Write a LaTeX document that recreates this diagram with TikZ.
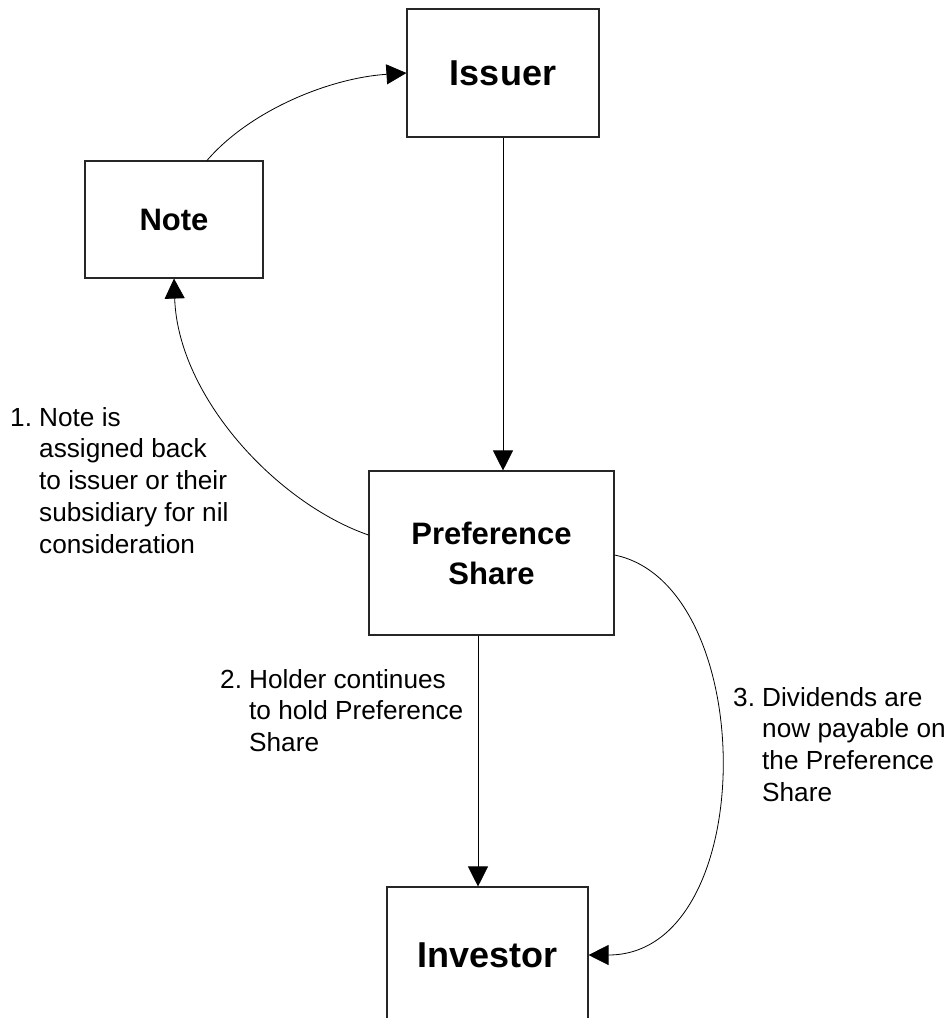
\documentclass[tikz,border=0pt]{standalone}
\usepackage{fontspec}
\setmainfont{Liberation Sans}
\usetikzlibrary{arrows.meta}
\tikzset{
  box/.style={draw=black!85, line width=1.1pt, rectangle, inner sep=0pt, align=center, font=\bfseries},
  arr/.style={draw=black, line width=0.8pt, -{Triangle[length=20pt,width=20pt]}},
  lbl/.style={anchor=base west, inner sep=0pt, font=\fontsize{26.2}{31.8}\selectfont},
}
\newcommand{\numlbl}[2]{\begin{tabular}[t]{@{}l@{}l@{}}\makebox[29pt][l]{#1}&#2\end{tabular}}
\begin{document}
\begin{tikzpicture}[x=1pt,y=-1pt]
\useasboundingbox (0,0) rectangle (952,1018);
\node[box, minimum width=192pt, minimum height=128pt, font=\bfseries\fontsize{36}{40}\selectfont] (issuer) at (503,73) {Issuer};
\node[box, minimum width=178pt, minimum height=117pt, font=\bfseries\fontsize{31}{36}\selectfont] (note) at (174,219.5) {Note};
\node[box, minimum width=245pt, minimum height=164pt, font=\bfseries\fontsize{31}{40}\selectfont] (ps) at (491.5,553) {Preference\\Share};
\node[box, minimum width=201pt, minimum height=136pt, font=\bfseries\fontsize{36}{40}\selectfont] (investor) at (487.5,955) {Investor};

\draw[arr] (issuer.south) -- (issuer.south |- ps.north);
\draw[arr] ([xshift=-13.5pt]ps.south) -- ([xshift=-9.5pt]investor.north);
\draw[arr] ([yshift=18pt]ps.west) .. controls +(-92,-32) and +(4,118) .. (note.south);
\draw[arr] ([xshift=33pt]note.north) .. controls +(43,-50) and +(-77,5) .. (issuer.west);
\draw[arr] ([yshift=-2pt]ps.east) .. controls +(146,30) and +(172,0) .. (investor.east);

\node[lbl] (l1) at (10,426) {\numlbl{1.}{Note is\\ &assigned back\\ &to issuer or their\\ &subsidiary for nil\\ &consideration}};
\node[lbl] (l2) at (220,688) {\numlbl{2.}{Holder continues\\ &to hold Preference\\ &Share}};
\node[lbl] (l3) at (733,706) {\numlbl{3.}{Dividends are\\ &now payable on\\ &the Preference\\ &Share}};
\end{tikzpicture}
\end{document}
